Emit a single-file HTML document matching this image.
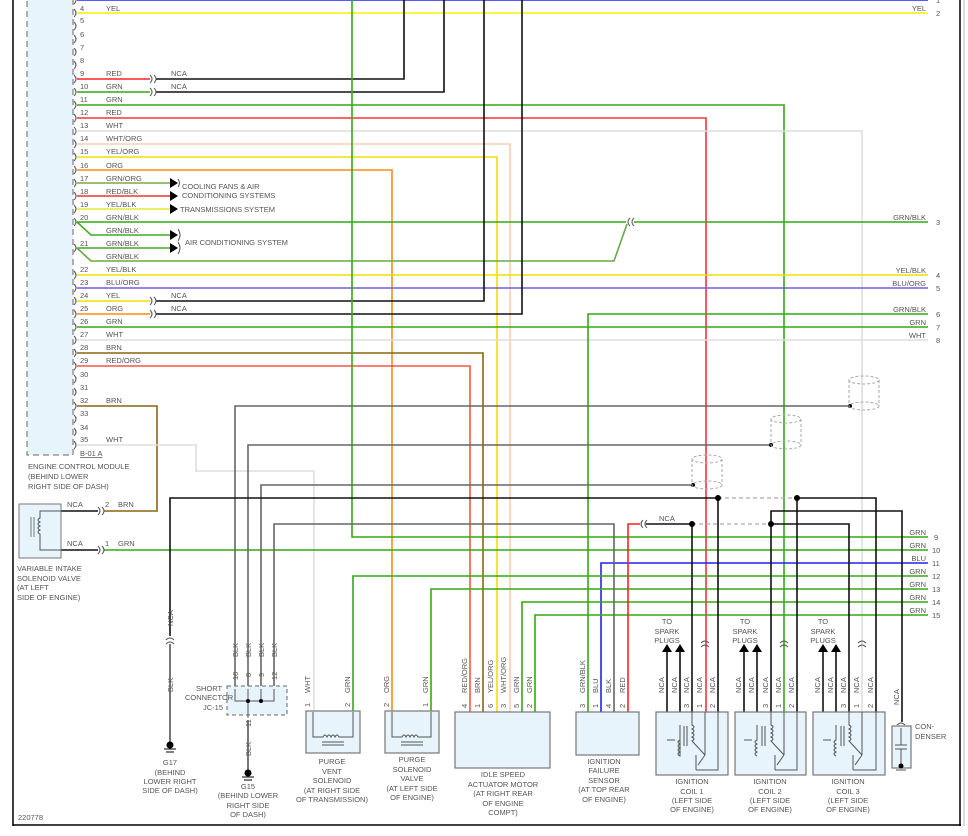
<!DOCTYPE html>
<html><head><meta charset="utf-8"><style>
html,body{margin:0;padding:0;background:#fff;}
svg{display:block;}
text{font-family:"Liberation Sans",sans-serif;font-size:7.5px;fill:#555;}
</style></head><body>
<svg width="968" height="836" viewBox="0 0 968 836" xmlns="http://www.w3.org/2000/svg">
<!-- borders -->
<line x1="13" y1="0" x2="13" y2="826" stroke="#000" stroke-width="1.5"/>
<line x1="13" y1="825" x2="961" y2="825" stroke="#000" stroke-width="1.5"/>
<line x1="960" y1="0" x2="960" y2="826" stroke="#000" stroke-width="1.5"/>
<line x1="964" y1="0" x2="964" y2="826" stroke="#bbb" stroke-width="1"/>
<text x="18" y="820">220778</text>

<!-- ECM box -->
<rect x="27" y="-5" width="46" height="460" fill="#e8f4fc" stroke="#666" stroke-dasharray="6,4"/>
<text x="80" y="456" style="text-decoration:underline">B-01 A</text>
<text x="28" y="469">ENGINE CONTROL MODULE</text>
<text x="28" y="479">(BEHIND LOWER</text>
<text x="28" y="489">RIGHT SIDE OF DASH)</text>

<g fill="none" stroke-width="1.6">
<!-- pin 3 blue -->
<line x1="77" y1="0" x2="928" y2="0" stroke="#2222ff"/>
<!-- pin 4 yel -->
<line x1="77" y1="13" x2="928" y2="13" stroke="#f5f000"/>
<!-- 9,10 -->
<line x1="77" y1="79" x2="150" y2="79" stroke="#ff2222"/>
<polyline points="156,79 404,79 404,0" stroke="#111"/>
<line x1="77" y1="92" x2="150" y2="92" stroke="#33aa11"/>
<polyline points="156,92 444,92 444,0" stroke="#111"/>
<!-- 11 -->
<polyline points="77,105 784,105 784,712" stroke="#33aa11"/>
<!-- 12 -->
<polyline points="77,118 706,118 706,712" stroke="#ff3333"/>
<!-- 13 -->
<polyline points="77,131 862,131 862,712" stroke="#ddd"/>
<!-- 14 -->
<polyline points="77,144 510,144 510,712" stroke="#f8cfb0"/>
<!-- 15 -->
<polyline points="77,157 497,157 497,712" stroke="#f0e000"/>
<!-- 16 -->
<polyline points="77,170 392,170 392,712" stroke="#ff8c1a"/>
<!-- 17,18,19 -->
<line x1="77" y1="183" x2="170" y2="183" stroke="#77aa44"/>
<line x1="77" y1="196" x2="170" y2="196" stroke="#ee3333"/>
<line x1="77" y1="209" x2="170" y2="209" stroke="#e8e830"/>
<!-- 20 -->
<line x1="77" y1="222" x2="626" y2="222" stroke="#33aa11"/>
<line x1="634" y1="222" x2="928" y2="222" stroke="#33aa11"/>
<polyline points="77,222 91,235 170,235" stroke="#44aa22"/>
<line x1="77" y1="248" x2="170" y2="248" stroke="#44aa22"/>
<polyline points="77,248 91,261 614,261 627,224" stroke="#66aa44"/>
<!-- 22,23 -->
<line x1="77" y1="275" x2="928" y2="275" stroke="#f0e000"/>
<line x1="77" y1="288" x2="928" y2="288" stroke="#6f5fdd"/>
<!-- 24,25 -->
<line x1="77" y1="301" x2="150" y2="301" stroke="#f0e000"/>
<polyline points="156,301 484,301 484,0" stroke="#111"/>
<line x1="77" y1="314" x2="150" y2="314" stroke="#ff8c1a"/>
<polyline points="156,314 522,314 522,0" stroke="#111"/>
<!-- 26,27 -->
<line x1="77" y1="327" x2="928" y2="327" stroke="#33aa11"/>
<line x1="77" y1="340" x2="928" y2="340" stroke="#ddd"/>
<polyline points="928,314 588,314 588,712" stroke="#33aa11"/>
<!-- 28,29 -->
<polyline points="77,353 483,353 483,712" stroke="#886611"/>
<polyline points="77,366 470,366 470,712" stroke="#ff5544"/>
<!-- 32 BRN -->
<polyline points="77,406 157,406 157,511 104,511" stroke="#886611"/>
<!-- 35 WHT -->
<polyline points="77,445 196,445 196,471 314,471 314,712" stroke="#ddd"/>
<!-- green x=352 -->
<polyline points="352,0 352,537 928,537" stroke="#33aa11"/>
<line x1="104" y1="550" x2="928" y2="550" stroke="#33aa11"/>
<polyline points="928,563 601,563 601,712" stroke="#2222ee"/>
<polyline points="928,576 353,576 353,712" stroke="#33aa11"/>
<polyline points="928,589 431,589 431,712" stroke="#33aa11"/>
<polyline points="928,602 522,602 522,712" stroke="#33aa11"/>
<polyline points="928,615 535,615 535,712" stroke="#33aa11"/>
<!-- gray shield wires -->
<polyline points="850,406 235,406 235,686" stroke="#666"/>
<polyline points="771,445 248,445 248,686" stroke="#666"/>
<polyline points="693,485 261,485 261,686" stroke="#666"/>
<polyline points="274,686 274,524 614,524 614,712" stroke="#666"/>
<!-- black ground line -->
<polyline points="718,498 170,498 170,636" stroke="#111"/>
<line x1="170" y1="644" x2="170" y2="742" stroke="#555"/>
<line x1="718" y1="498" x2="718" y2="712" stroke="#111"/>
<line x1="797" y1="498" x2="797" y2="712" stroke="#111"/>
<polyline points="797,498 876,498 876,712" stroke="#111"/>
<polyline points="771,524 771,511 902,511 902,722" stroke="#111"/>
<line x1="771" y1="524" x2="771" y2="712" stroke="#111"/>
<polyline points="628,712 628,524 640,524" stroke="#ff2222"/>
<line x1="646" y1="524" x2="692" y2="524" stroke="#111"/>
<line x1="692" y1="524" x2="692" y2="712" stroke="#111"/>
<polyline points="771,524 849,524 849,712" stroke="#111"/>
<!-- ground pin 11 -->
<line x1="248" y1="720" x2="248" y2="770" stroke="#555"/>
<!-- variable intake NCA -->
<line x1="61" y1="511" x2="98" y2="511" stroke="#111"/>
<line x1="61" y1="550" x2="98" y2="550" stroke="#111"/>
<!-- spark arrows -->
<line x1="667" y1="652" x2="667" y2="740" stroke="#111"/>
<line x1="680" y1="652" x2="680" y2="725" stroke="#111"/>
<line x1="744" y1="652" x2="744" y2="740" stroke="#111"/>
<line x1="757" y1="652" x2="757" y2="725" stroke="#111"/>
<line x1="823" y1="652" x2="823" y2="740" stroke="#111"/>
<line x1="836" y1="652" x2="836" y2="725" stroke="#111"/>
</g>
<g stroke="#aaa" stroke-width="1.2" stroke-dasharray="4,3">
<line x1="718" y1="498" x2="797" y2="498"/>
<line x1="692" y1="524" x2="771" y2="524"/>
</g>
<g fill="#000">
<circle cx="718" cy="498" r="3"/><circle cx="797" cy="498" r="3"/>
<circle cx="692" cy="524" r="3"/><circle cx="771" cy="524" r="3"/>
<circle cx="850" cy="406" r="2"/><circle cx="771" cy="445" r="2"/><circle cx="693" cy="485" r="2"/>
<polygon points="662,652 672,652 667,644"/><polygon points="675,652 685,652 680,644"/>
<polygon points="739,652 749,652 744,644"/><polygon points="752,652 762,652 757,644"/>
<polygon points="818,652 828,652 823,644"/><polygon points="831,652 841,652 836,644"/>
<polygon points="170,178 178,183 170,188"/><polygon points="170,191 178,196 170,201"/>
<polygon points="170,204 178,209 170,214"/><polygon points="170,230 178,235 170,240"/>
<polygon points="170,243 178,248 170,253"/>
</g>
<!-- shields -->
<g fill="none" stroke="#aaa" stroke-dasharray="3,2">
<ellipse cx="864" cy="380" rx="15" ry="4"/><ellipse cx="864" cy="406" rx="15" ry="4"/>
<line x1="849" y1="380" x2="849" y2="406"/><line x1="879" y1="380" x2="879" y2="406"/>
<ellipse cx="786" cy="419" rx="15" ry="4"/><ellipse cx="786" cy="445" rx="15" ry="4"/>
<line x1="771" y1="419" x2="771" y2="445"/><line x1="801" y1="419" x2="801" y2="445"/>
<ellipse cx="707" cy="459" rx="15" ry="4"/><ellipse cx="707" cy="485" rx="15" ry="4"/>
<line x1="692" y1="459" x2="692" y2="485"/><line x1="722" y1="459" x2="722" y2="485"/>
</g>
<!-- ECM connector marks -->
<g fill="none" stroke="#555" stroke-width="1">
<path d="M74,-4 q4,4 0,8"/><path d="M74,9 q4,4 0,8"/><path d="M74,22 q4,4 0,8"/><path d="M74,35 q4,4 0,8"/><path d="M74,48 q4,4 0,8"/><path d="M74,61 q4,4 0,8"/><path d="M74,75 q4,4 0,8"/><path d="M74,88 q4,4 0,8"/><path d="M74,101 q4,4 0,8"/><path d="M74,114 q4,4 0,8"/><path d="M74,127 q4,4 0,8"/><path d="M74,140 q4,4 0,8"/><path d="M74,153 q4,4 0,8"/><path d="M74,166 q4,4 0,8"/><path d="M74,179 q4,4 0,8"/><path d="M74,192 q4,4 0,8"/><path d="M74,205 q4,4 0,8"/><path d="M74,218 q4,4 0,8"/><path d="M74,244 q4,4 0,8"/><path d="M74,271 q4,4 0,8"/><path d="M74,284 q4,4 0,8"/><path d="M74,297 q4,4 0,8"/><path d="M74,310 q4,4 0,8"/><path d="M74,323 q4,4 0,8"/><path d="M74,336 q4,4 0,8"/><path d="M74,349 q4,4 0,8"/><path d="M74,362 q4,4 0,8"/><path d="M74,375 q4,4 0,8"/><path d="M74,388 q4,4 0,8"/><path d="M74,402 q4,4 0,8"/><path d="M74,415 q4,4 0,8"/><path d="M74,428 q4,4 0,8"/><path d="M74,441 q4,4 0,8"/>
<path d="M150,75 q4,4 0,8"/><path d="M154,75 q4,4 0,8"/><path d="M150,88 q4,4 0,8"/><path d="M154,88 q4,4 0,8"/>
<path d="M150,297 q4,4 0,8"/><path d="M154,297 q4,4 0,8"/><path d="M150,310 q4,4 0,8"/><path d="M154,310 q4,4 0,8"/>
<path d="M98,507 q4,4 0,8"/><path d="M102,507 q4,4 0,8"/><path d="M98,546 q4,4 0,8"/><path d="M102,546 q4,4 0,8"/>
<path d="M630,218 q-4,4 0,8"/><path d="M634,218 q-4,4 0,8"/>
<path d="M643,520 q-4,4 0,8"/><path d="M647,520 q-4,4 0,8"/>
<path d="M166,640 q4,-4 8,0"/><path d="M166,644 q4,-4 8,0"/>
<path d="M701,643 q4,-4 8,0"/><path d="M701,647 q4,-4 8,0"/>
<path d="M780,643 q4,-4 8,0"/><path d="M780,647 q4,-4 8,0"/>
<path d="M858,643 q4,-4 8,0"/><path d="M858,647 q4,-4 8,0"/>
<path d="M897,725 q4,-4 8,0"/>
<path d="M178,229 q4,6 0,12 M178,242 q4,6 0,12"/>
<path d="M178,179 q3,4 0,8"/>
</g>
<!-- ECM text -->
<g>
<text x="80" y="11">4</text><text x="106" y="11">YEL</text>
<text x="80" y="23">5</text><text x="80" y="37">6</text><text x="80" y="50">7</text><text x="80" y="63">8</text>
<text x="80" y="76">9</text><text x="106" y="76">RED</text><text x="171" y="76">NCA</text>
<text x="80" y="89">10</text><text x="106" y="89">GRN</text><text x="171" y="89">NCA</text>
<text x="80" y="102">11</text><text x="106" y="102">GRN</text>
<text x="80" y="115">12</text><text x="106" y="115">RED</text>
<text x="80" y="128">13</text><text x="106" y="128">WHT</text>
<text x="80" y="141">14</text><text x="106" y="141">WHT/ORG</text>
<text x="80" y="154">15</text><text x="106" y="154">YEL/ORG</text>
<text x="80" y="168">16</text><text x="106" y="168">ORG</text>
<text x="80" y="181">17</text><text x="106" y="181">GRN/ORG</text>
<text x="80" y="194">18</text><text x="106" y="194">RED/BLK</text>
<text x="80" y="207">19</text><text x="106" y="207">YEL/BLK</text>
<text x="80" y="220">20</text><text x="106" y="220">GRN/BLK</text>
<text x="106" y="233">GRN/BLK</text>
<text x="80" y="246">21</text><text x="106" y="246">GRN/BLK</text>
<text x="106" y="259">GRN/BLK</text>
<text x="80" y="272">22</text><text x="106" y="272">YEL/BLK</text>
<text x="80" y="285">23</text><text x="106" y="285">BLU/ORG</text>
<text x="80" y="298">24</text><text x="106" y="298">YEL</text><text x="171" y="298">NCA</text>
<text x="80" y="311">25</text><text x="106" y="311">ORG</text><text x="171" y="311">NCA</text>
<text x="80" y="324">26</text><text x="106" y="324">GRN</text>
<text x="80" y="337">27</text><text x="106" y="337">WHT</text>
<text x="80" y="350">28</text><text x="106" y="350">BRN</text>
<text x="80" y="363">29</text><text x="106" y="363">RED/ORG</text>
<text x="80" y="377">30</text><text x="80" y="390">31</text>
<text x="80" y="403">32</text><text x="106" y="403">BRN</text>
<text x="80" y="416">33</text><text x="80" y="430">34</text>
<text x="80" y="442">35</text><text x="106" y="442">WHT</text>
<text x="182" y="189">COOLING FANS &amp; AIR</text>
<text x="182" y="198">CONDITIONING SYSTEMS</text>
<text x="180" y="212">TRANSMISSIONS SYSTEM</text>
<text x="185" y="245">AIR CONDITIONING SYSTEM</text>
</g>
<!-- right labels -->
<g text-anchor="end">
<text x="926" y="11">YEL</text><text x="926" y="220">GRN/BLK</text>
<text x="926" y="273">YEL/BLK</text><text x="926" y="286">BLU/ORG</text>
<text x="926" y="312">GRN/BLK</text><text x="926" y="325">GRN</text><text x="926" y="338">WHT</text>
<text x="926" y="535">GRN</text><text x="926" y="548">GRN</text><text x="926" y="561">BLU</text>
<text x="926" y="574">GRN</text><text x="926" y="587">GRN</text><text x="926" y="600">GRN</text><text x="926" y="613">GRN</text>
</g>
<g>
<text x="936" y="3">1</text><text x="936" y="16">2</text><text x="936" y="225">3</text>
<text x="936" y="278">4</text><text x="936" y="291">5</text><text x="936" y="317">6</text><text x="936" y="330">7</text><text x="936" y="343">8</text>
<text x="934" y="540">9</text><text x="932" y="553">10</text><text x="932" y="566">11</text><text x="932" y="579">12</text>
<text x="932" y="592">13</text><text x="932" y="605">14</text><text x="932" y="618">15</text>
<text x="659" y="521">NCA</text>
</g>
<!-- variable intake -->
<rect x="19" y="504" width="42" height="54" fill="#e8f4fc" stroke="#777"/>
<path d="M61,511 H40 V518 q-4,2 0,4 q-4,2 0,4 q-4,2 0,4 q-4,2 0,4 V550 H61" fill="none" stroke="#555"/>
<line x1="34" y1="517" x2="34" y2="537" stroke="#777"/><line x1="31" y1="517" x2="31" y2="537" stroke="#777"/>
<text x="67" y="507">NCA</text><text x="67" y="546">NCA</text>
<text x="105" y="507">2</text><text x="118" y="507">BRN</text>
<text x="105" y="546">1</text><text x="118" y="546">GRN</text>
<text x="17" y="571">VARIABLE INTAKE</text><text x="17" y="581">SOLENOID VALVE</text>
<text x="17" y="590">(AT LEFT</text><text x="17" y="600">SIDE OF ENGINE)</text>

<!-- rotated labels -->
<g>
<text transform="translate(173,626) rotate(-90)">NCA</text>
<text transform="translate(173,692) rotate(-90)">BLK</text>
<text transform="translate(238,657) rotate(-90)">BLK</text>
<text transform="translate(251,657) rotate(-90)">BLK</text>
<text transform="translate(264,657) rotate(-90)">BLK</text>
<text transform="translate(277,657) rotate(-90)">BLK</text>
<text transform="translate(238,680) rotate(-90)">10</text>
<text transform="translate(251,677) rotate(-90)">8</text>
<text transform="translate(264,677) rotate(-90)">9</text>
<text transform="translate(277,680) rotate(-90)">12</text>
<text transform="translate(251,727) rotate(-90)">11</text>
<text transform="translate(251,756) rotate(-90)">BLK</text>
<text transform="translate(310,693) rotate(-90)">WHT</text>
<text transform="translate(350,693) rotate(-90)">GRN</text>
<text transform="translate(310,707) rotate(-90)">1</text>
<text transform="translate(350,707) rotate(-90)">2</text>
<text transform="translate(389,693) rotate(-90)">ORG</text>
<text transform="translate(428,693) rotate(-90)">GRN</text>
<text transform="translate(389,707) rotate(-90)">2</text>
<text transform="translate(428,707) rotate(-90)">1</text>
<text transform="translate(467,693) rotate(-90)">RED/ORG</text>
<text transform="translate(480,693) rotate(-90)">BRN</text>
<text transform="translate(493,693) rotate(-90)">YEL/ORG</text>
<text transform="translate(506,693) rotate(-90)">WHT/ORG</text>
<text transform="translate(519,693) rotate(-90)">GRN</text>
<text transform="translate(532,693) rotate(-90)">GRN</text>
<text transform="translate(467,708) rotate(-90)">4</text><text transform="translate(480,708) rotate(-90)">1</text>
<text transform="translate(493,708) rotate(-90)">6</text><text transform="translate(506,708) rotate(-90)">3</text>
<text transform="translate(519,708) rotate(-90)">5</text><text transform="translate(532,708) rotate(-90)">2</text>
<text transform="translate(585,693) rotate(-90)">GRN/BLK</text>
<text transform="translate(598,693) rotate(-90)">BLU</text>
<text transform="translate(611,693) rotate(-90)">BLK</text>
<text transform="translate(625,693) rotate(-90)">RED</text>
<text transform="translate(585,708) rotate(-90)">3</text><text transform="translate(598,708) rotate(-90)">1</text>
<text transform="translate(611,708) rotate(-90)">4</text><text transform="translate(625,708) rotate(-90)">2</text>
<text transform="translate(664,693) rotate(-90)">NCA</text><text transform="translate(677,693) rotate(-90)">NCA</text>
<text transform="translate(689,693) rotate(-90)">NCA</text><text transform="translate(702,693) rotate(-90)">NCA</text><text transform="translate(715,693) rotate(-90)">NCA</text>
<text transform="translate(689,708) rotate(-90)">3</text><text transform="translate(702,708) rotate(-90)">1</text><text transform="translate(715,708) rotate(-90)">2</text>
<text transform="translate(741,693) rotate(-90)">NCA</text><text transform="translate(754,693) rotate(-90)">NCA</text>
<text transform="translate(768,693) rotate(-90)">NCA</text><text transform="translate(781,693) rotate(-90)">NCA</text><text transform="translate(794,693) rotate(-90)">NCA</text>
<text transform="translate(768,708) rotate(-90)">3</text><text transform="translate(781,708) rotate(-90)">1</text><text transform="translate(794,708) rotate(-90)">2</text>
<text transform="translate(820,693) rotate(-90)">NCA</text><text transform="translate(833,693) rotate(-90)">NCA</text>
<text transform="translate(846,693) rotate(-90)">NCA</text><text transform="translate(859,693) rotate(-90)">NCA</text><text transform="translate(873,693) rotate(-90)">NCA</text>
<text transform="translate(846,708) rotate(-90)">3</text><text transform="translate(859,708) rotate(-90)">1</text><text transform="translate(873,708) rotate(-90)">2</text>
<text transform="translate(899,705) rotate(-90)">NCA</text>
</g>

<!-- short connector -->
<rect x="227" y="686" width="60" height="29" fill="#e8f4fc" stroke="#666" stroke-dasharray="4,3"/>
<polyline points="235,689 235,701 274,701 274,689 M248,689 V718 M261,689 V701" fill="none" stroke="#555"/>
<path d="M235,689 V701 H274 V689 M248,689 V718 M261,689 V701" fill="none" stroke="#555"/>
<circle cx="248" cy="701" r="2"/><circle cx="261" cy="701" r="2"/>
<text x="196" y="691">SHORT</text><text x="185" y="700">CONNECTOR</text><text x="203" y="710">JC-15</text>
<!-- grounds -->
<g fill="#000" stroke="#000">
<circle cx="170" cy="745" r="3"/><line x1="164" y1="749" x2="176" y2="749"/><line x1="166" y1="752" x2="174" y2="752"/>
<circle cx="248" cy="773" r="3"/><line x1="242" y1="777" x2="254" y2="777"/><line x1="244" y1="780" x2="252" y2="780"/>
</g>
<g text-anchor="middle">
<text x="170" y="765">G17</text><text x="170" y="775">(BEHIND</text><text x="170" y="784">LOWER RIGHT</text><text x="170" y="793">SIDE OF DASH)</text>
<text x="248" y="789">G15</text><text x="248" y="798">(BEHIND LOWER</text><text x="248" y="808">RIGHT SIDE</text><text x="248" y="817">OF DASH)</text>
<text x="332" y="764">PURGE</text><text x="332" y="774">VENT</text><text x="332" y="783">SOLENOID</text><text x="332" y="793">(AT RIGHT SIDE</text><text x="332" y="802">OF TRANSMISSION)</text>
<text x="412" y="762">PURGE</text><text x="412" y="772">SOLENOID</text><text x="412" y="781">VALVE</text><text x="412" y="791">(AT LEFT SIDE</text><text x="412" y="800">OF ENGINE)</text>
<text x="503" y="777">IDLE SPEED</text><text x="503" y="787">ACTUATOR MOTOR</text><text x="503" y="796">(AT RIGHT REAR</text><text x="503" y="806">OF ENGINE</text><text x="503" y="815">COMPT)</text>
<text x="604" y="764">IGNITION</text><text x="604" y="773">FAILURE</text><text x="604" y="783">SENSOR</text><text x="604" y="792">(AT TOP REAR</text><text x="604" y="802">OF ENGINE)</text>
<text x="692" y="784">IGNITION</text><text x="692" y="794">COIL 1</text><text x="692" y="803">(LEFT SIDE</text><text x="692" y="812">OF ENGINE)</text>
<text x="770" y="784">IGNITION</text><text x="770" y="794">COIL 2</text><text x="770" y="803">(LEFT SIDE</text><text x="770" y="812">OF ENGINE)</text>
<text x="848" y="784">IGNITION</text><text x="848" y="794">COIL 3</text><text x="848" y="803">(LEFT SIDE</text><text x="848" y="812">OF ENGINE)</text>
<text x="667" y="624">TO</text><text x="667" y="634">SPARK</text><text x="667" y="643">PLUGS</text>
<text x="745" y="624">TO</text><text x="745" y="634">SPARK</text><text x="745" y="643">PLUGS</text>
<text x="823" y="624">TO</text><text x="823" y="634">SPARK</text><text x="823" y="643">PLUGS</text>
</g>
<text x="915" y="729">CON-</text><text x="915" y="739">DENSER</text>

<!-- component boxes -->
<g fill="#e8f4fc" stroke="#777" stroke-width="1.2">
<rect x="306" y="711" width="54" height="42"/>
<rect x="385" y="711" width="54" height="42"/>
<rect x="455" y="712" width="95" height="56"/>
<rect x="576" y="712" width="63" height="43"/>
<rect x="656" y="712" width="72" height="63"/>
<rect x="735" y="712" width="71" height="63"/>
<rect x="813" y="712" width="72" height="63"/>
<rect x="892" y="726" width="19" height="42"/>
</g>
<g fill="none" stroke="#555" stroke-width="1">
<path d="M313,712 V737 H323 q2,-4 4,0 q2,-4 4,0 q2,-4 4,0 q2,-4 4,0 H353 V712"/>
<line x1="322" y1="742" x2="344" y2="742"/><line x1="322" y1="745" x2="344" y2="745"/>
<path d="M392,712 V737 H402 q2,-4 4,0 q2,-4 4,0 q2,-4 4,0 q2,-4 4,0 H431 V712"/>
<line x1="401" y1="742" x2="423" y2="742"/><line x1="401" y1="745" x2="423" y2="745"/>
<path d="M667,740 H675 M680,725 V740 q-4,2 0,4 q-4,2 0,4 q-4,2 0,4 q-4,2 0,4 V740 M692,712 V725 q4,2 0,4 q4,2 0,4 q4,2 0,4 q4,2 0,4 L705,755 M705,712 V755 M718,712 V770 H696 M696,755 V770 M705,755 L698,765"/>
<line x1="684" y1="726" x2="684" y2="746"/><line x1="687" y1="726" x2="687" y2="746"/>
<path d="M744,740 H752 M757,725 V740 q-4,2 0,4 q-4,2 0,4 q-4,2 0,4 q-4,2 0,4 M771,712 V725 q4,2 0,4 q4,2 0,4 q4,2 0,4 q4,2 0,4 L784,755 M784,712 V755 M797,712 V770 H775 M775,755 V770 M784,755 L777,765"/>
<line x1="762" y1="726" x2="762" y2="746"/><line x1="765" y1="726" x2="765" y2="746"/>
<path d="M823,740 H831 M836,725 V740 q-4,2 0,4 q-4,2 0,4 q-4,2 0,4 q-4,2 0,4 M849,712 V725 q4,2 0,4 q4,2 0,4 q4,2 0,4 q4,2 0,4 L862,755 M862,712 V755 M876,712 V770 H853 M853,755 V770 M862,755 L855,765"/>
<line x1="841" y1="726" x2="841" y2="746"/><line x1="844" y1="726" x2="844" y2="746"/>
<path d="M901,728 V745 M895,745 H907 M895,749 H907 M901,749 V766"/>
</g>
<circle cx="901" cy="766" r="2.5" fill="#000"/>
<line x1="896" y1="770" x2="906" y2="770" stroke="#555"/>
</svg>
</body></html>
